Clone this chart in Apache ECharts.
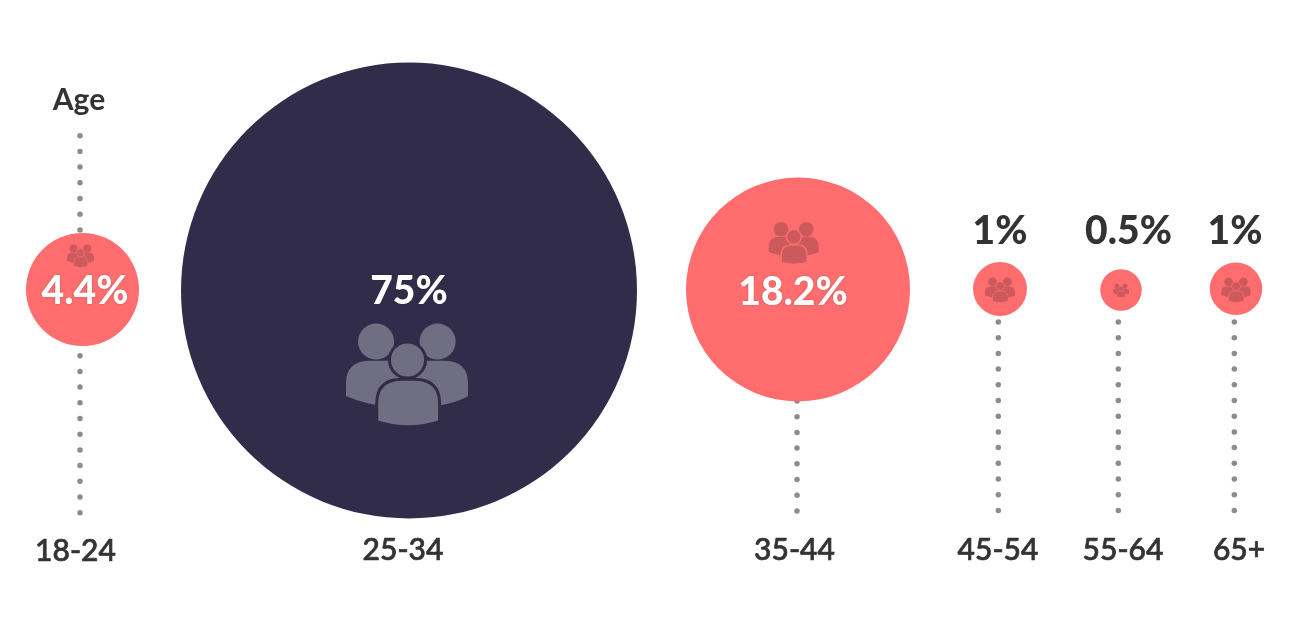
<!DOCTYPE html>
<html><head><meta charset="utf-8">
<style>html,body{margin:0;padding:0;background:#fff}#c{width:1300px;height:618px}</style>
<script src="https://cdn.jsdelivr.net/npm/echarts@6/dist/echarts.min.js"></script>
</head><body><div id="c"></div>
<script>
const categories = ['18-24','25-34','35-44','45-54','55-64','65+'];
const shares = [4.4,75,18.2,1,0.5,1];
const shareLabels = ['4.4%','75%','18.2%','1%','0.5%','1%'];
const axisTitle = 'Age';

// layout, in page pixels
const bubbleX = [82.5,409,798,1000,1121,1236];
const bubbleY = [289.5,290.5,289.5,289,290,288.7];
const bubbleD = [113,456,224,54,41.5,52.5];
const catLabelX = [75.5,403,794.5,998,1123,1239];
const catLabelY = [551.5,550,550,550,550,550];
const shareX = [85,409,793,1000,1128.5,1235];
const shareY = [291,291,292.5,231.5,231.5,231.5];
const iconX = [80.5,407,793.7,1000,1121,1236];
const iconY = [256,375,243,290,290.5,290];
const iconW = [27,122,50,30,16,29.5];
const stemX = [80,null,797,998.3,1118.3,1234.3];
const NAVY='#322c4b', CORAL='#ff6d6e', INK='#333333', DOT='#8c8c8c';
const isDark = v => v >= 50;

const stemDots = [];
[[0,135.7,7],[0,355.7,11],[2,401,8],[3,322,13],[4,322,13],[5,322,13]].forEach(([i,y0,n])=>{
  for(let k=0;k<n;k++) stemDots.push([stemX[i], y0+k*15.7]);
});

const BACK_D='M36,55a54,54 0 1,0 108,0a54,54 0 1,0 -108,0Z M220,55a54,54 0 1,0 108,0a54,54 0 1,0 -108,0Z M0,218V180Q0,112 72,112H293Q365,112 365,180V218Q325,245 225,252H140Q60,245 0,218Z';
const FRONT_D='M130,110a54,54 0 1,0 108,0a54,54 0 1,0 -108,0Z M92,295V240Q92,168 168,168H204Q280,168 280,240V295Q186,325 92,295Z';

const txt=(name,data,font,color,extra)=>({type:'scatter',name,symbolSize:0,silent:true,z:10,data,itemStyle:{opacity:1},
  label:Object.assign({show:true,position:'inside',opacity:1,formatter:p=>p.data[2],fontFamily:'Lato',fontWeight:font[0],fontSize:font[1],color},extra||{})});

const chart = echarts.init(document.getElementById('c'),null,{renderer:'canvas'});
chart.setOption({
  animation:false,
  backgroundColor:'#ffffff',
  grid:{left:0,right:0,top:0,bottom:0},
  xAxis:{type:'value',min:0,max:1300,show:false},
  yAxis:{type:'value',min:0,max:618,inverse:true,show:false},
  series:[
    {type:'scatter',name:'stems',z:1,silent:true,symbolSize:5.5,itemStyle:{color:DOT,opacity:1},data:stemDots},
    {type:'scatter',name:'share',z:2,silent:true,
      data:shares.map((v,i)=>({value:[bubbleX[i],bubbleY[i],v],symbolSize:bubbleD[i],itemStyle:{color:isDark(v)?NAVY:CORAL,opacity:1}}))},
    {type:'custom',name:'icons',z:3,silent:true,coordinateSystem:'cartesian2d',
      data:shares.map((v,i)=>[iconX[i],iconY[i],iconW[i],isDark(v)?1:0]),
      renderItem:(p,api)=>{
        const c=api.coord([api.value(0),api.value(1)]), w=api.value(2), dark=api.value(3)===1;
        const s=w/365, fill=dark?'#706e82':'#cc5a5c', bg=dark?NAVY:CORAL;
        const ox=c[0]-182.5*s, oy=c[1]-155*s;
        return {type:'group',children:[
          {type:'path',shape:{pathData:BACK_D,layout:'cover',x:ox,y:oy+1*s,width:365*s,height:251*s},style:{fill}},
          {type:'path',shape:{pathData:FRONT_D,layout:'cover',x:ox+92*s,y:oy+56*s,width:188*s,height:254*s},
            style:{fill,stroke:bg,lineWidth:Math.max(9*s,0.3)}}
        ]};
      }},
    txt('age',[[79,100,axisTitle]],[700,30],INK),
    txt('categories',categories.map((c,i)=>[catLabelX[i],catLabelY[i],c]),[500,30],INK,{textBorderColor:INK,textBorderWidth:0.7}),
    txt('inside',shares.map((v,i)=>[shareX[i],shareY[i],shareLabels[i],v]).filter(d=>d[3]>2),[900,39],'#ffffff',{textShadowColor:'rgba(0,0,0,0.25)',textShadowBlur:2}),
    txt('above',shares.map((v,i)=>[shareX[i],shareY[i],shareLabels[i],v]).filter(d=>d[3]<=2),[900,39],INK)
  ]
});
</script></body></html>
